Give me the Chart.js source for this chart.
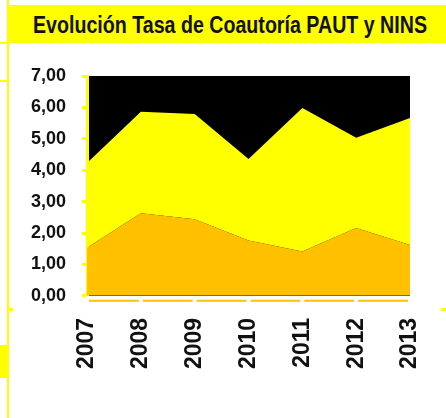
<!DOCTYPE html>
<html><head><meta charset="utf-8">
<script src="https://cdn.jsdelivr.net/npm/chart.js@4/dist/chart.umd.min.js"></script>
<style>
html,body{margin:0;padding:0;background:#fff;width:446px;height:418px;overflow:hidden;position:relative;}
#c{position:absolute;left:0;top:0;}
.d{position:absolute;background:#FFFF00;}
#title{position:absolute;left:8px;top:5px;width:438px;height:38px;background:#FFFF00;}
#tt{position:absolute;left:25px;top:7px;white-space:nowrap;font-family:"Liberation Sans",Arial,sans-serif;font-weight:bold;font-size:23px;color:#111;transform-origin:0 0;}
</style></head><body>
<canvas id="c" width="446" height="418"></canvas>
<div id="title"><span id="tt">Evolución Tasa de Coautoría PAUT y NINS</span></div>
<div class="d" style="left:7px;top:0;width:2px;height:418px"></div>
<div class="d" style="left:0;top:42px;width:8px;height:2px"></div>
<div class="d" style="left:0;top:80px;width:8px;height:2px"></div>
<div class="d" style="left:8px;top:308px;width:5px;height:3px"></div>
<div class="d" style="left:0;top:345px;width:7px;height:33px"></div>
<div class="d" style="left:441px;top:308px;width:5px;height:3px"></div>
<script>
const years = ['2007','2008','2009','2010','2011','2012','2013'];
const paut = [1.53, 2.63, 2.44, 1.76, 1.41, 2.16, 1.62];
const nins = [2.70, 3.23, 3.35, 2.60, 4.57, 2.87, 4.04];
const yTicks = [0,1,2,3,4,5,6,7];

const tt = document.getElementById('tt');
const w = tt.getBoundingClientRect().width;
tt.style.transform = 'scaleX(' + (394 / w) + ')';

const bgPlugin = {
  id: 'bg',
  beforeDraw(chart) {
    const a = chart.chartArea, ctx = chart.ctx;
    ctx.save(); ctx.fillStyle = '#000'; ctx.fillRect(a.left, a.top, a.right - a.left, a.bottom - a.top); ctx.restore();
  },
  afterDraw(chart) {
    const a = chart.chartArea, ctx = chart.ctx, xs = chart.scales.x;
    ctx.save(); ctx.strokeStyle = '#FFC000'; ctx.lineWidth = 2;
    for (let i = 0; i < years.length - 1; i++) {
      const x0 = xs.getPixelForValue(i) + 2, x1 = xs.getPixelForValue(i + 1) - 2;
      ctx.beginPath(); ctx.moveTo(x0, a.bottom + 5); ctx.lineTo(x1, a.bottom + 5); ctx.stroke();
    }
    ctx.restore();
  }
};

new Chart(document.getElementById('c'), {
  type: 'line',
  data: {
    labels: years,
    datasets: [
      {label: 'PAUT', data: paut, fill: 'origin', backgroundColor: '#FFC000', borderWidth: 0, pointRadius: 0, tension: 0},
      {label: 'NINS', data: nins, fill: '-1', backgroundColor: '#FFFF00', borderWidth: 0, pointRadius: 0, tension: 0}
    ]
  },
  plugins: [bgPlugin],
  options: {
    responsive: false, animation: false,
    layout: {autoPadding: false, padding: {left: 15, right: 36, top: 76, bottom: 35}},
    plugins: {legend: {display: false}, tooltip: {enabled: false}},
    scales: {
      x: {
        offset: false,
        afterFit(s) { s.paddingRight = 0; s.paddingLeft = 0; },
        grid: {display: false},
        border: {display: false},
        ticks: {minRotation: 90, maxRotation: 90, padding: 14, color: '#111',
          font: {family: 'Liberation Sans', weight: 'bold', size: 23}}
      },
      y: {
        stacked: true, min: 0, max: 7,
        afterBuildTicks(s) { s.ticks = yTicks.map(v => ({value: v})); },
        grid: {drawOnChartArea: false, color: '#FFFF00', tickLength: 5, tickWidth: 3},
        border: {display: true, color: '#FFFF00', width: 3},
        ticks: {padding: 16, color: '#111', callback: v => v.toFixed(2).replace('.', ','),
          font: {family: 'Liberation Sans', weight: 'bold', size: 18}}
      }
    }
  }
});
</script>
</body></html>
